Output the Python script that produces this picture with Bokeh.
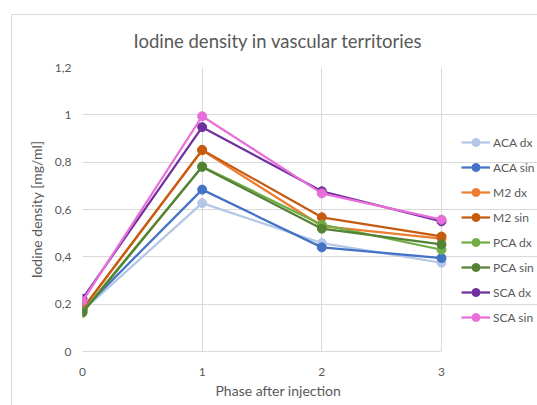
from bokeh.plotting import figure
from bokeh.models import (Range1d, FixedTicker, CustomJSTickFormatter, Legend,
                          LegendItem, InlineStyleSheet, Title)
from bokeh.embed import file_html
from bokeh.resources import INLINE

# Iodine density per vascular territory, measured at four phases after injection
phases = [0, 1, 2, 3]
series_names = ["ACA dx", "ACA sin", "M2 dx", "M2 sin",
                "PCA dx", "PCA sin", "SCA dx", "SCA sin"]
aca_dx = [0.172, 0.627, 0.458, 0.375]
aca_sin = [0.175, 0.684, 0.440, 0.395]
m2_dx = [0.178, 0.850, 0.530, 0.477]
m2_sin = [0.180, 0.852, 0.567, 0.486]
pca_dx = [0.168, 0.782, 0.536, 0.430]
pca_sin = [0.164, 0.780, 0.519, 0.453]
sca_dx = [0.223, 0.948, 0.677, 0.550]
sca_sin = [0.213, 0.994, 0.668, 0.557]
y_ticks = [0, 0.2, 0.4, 0.6, 0.8, 1.0, 1.2]

values = [aca_dx, aca_sin, m2_dx, m2_sin, pca_dx, pca_sin, sca_dx, sca_sin]
colors = ["#b4c7e7", "#4472c4", "#ed7d31", "#c55a11",
          "#70ad47", "#548235", "#7030a0", "#e86fd7"]

FONT = "Lato"
TEXT = "#595959"
GRID = "#d9d9d9"

# The frame runs to the right edge so the legend can sit inside it; the
# plotted area itself spans x = 0..3 (pixels 82..441), the rest holds the legend.
W, H = 537, 405
LEFT, PLOT_RIGHT, TOP, BOTTOM = 82, 441, 67, 351
x_end = 3 * (W - LEFT) / (PLOT_RIGHT - LEFT)

p = figure(width=W, height=H, output_backend="svg", toolbar_location=None,
           x_range=Range1d(0, x_end), y_range=Range1d(0, 1.2))
p.min_border_left = LEFT
p.min_border_right = 0
p.min_border_top = TOP
p.min_border_bottom = H - BOTTOM
p.outline_line_color = None
p.background_fill_color = "white"
p.border_fill_color = "white"

# thin frame around the chart area, open towards the right and bottom edges
p.stylesheets = [InlineStyleSheet(css="""
:host::after {
  content: "";
  position: absolute;
  left: 11px; top: 14px; right: 0; bottom: 0;
  border-left: 1px solid #d9d9d9;
  border-top: 1px solid #d9d9d9;
  pointer-events: none;
}
""")]

# chart title
p.title.text = "Iodine density in vascular territories"
p.title.text_font = FONT
p.title.text_font_size = "18.5px"
p.title.text_font_style = "normal"
p.title.text_color = TEXT
p.title.align = "left"
p.title.offset = 51
p.title.standoff = 31

# axes
p.xaxis.ticker = FixedTicker(ticks=phases)
p.yaxis.ticker = FixedTicker(ticks=y_ticks)
p.xaxis.bounds = (0, 3)
p.yaxis.formatter = CustomJSTickFormatter(
    code="return (Math.round(tick * 10) / 10).toString().replace('.', ',');")
for ax in (p.xaxis[0], p.yaxis[0]):
    ax.major_tick_line_color = None
    ax.minor_tick_line_color = None
    ax.major_tick_out = 0
    ax.major_label_text_font = FONT
    ax.major_label_text_font_size = "12px"
    ax.major_label_text_color = TEXT
    ax.axis_label_text_font = FONT
    ax.axis_label_text_font_size = "14px"
    ax.axis_label_text_font_style = "normal"
    ax.axis_label_text_color = TEXT
p.xaxis.axis_line_color = GRID
p.yaxis.axis_line_color = None
p.xaxis.major_label_standoff = 16
p.yaxis.major_label_standoff = 11
p.yaxis.axis_label = "Iodine density [mg/ml]"
p.yaxis.axis_label_standoff = 7

# x-axis title, centred under the plotted area rather than the whole frame
p.add_layout(Title(text="Phase after injection", text_font=FONT,
                   text_font_size="14px", text_font_style="normal",
                   text_color=TEXT, align="left", offset=133, standoff=2),
             "below")

p.xgrid.grid_line_color = GRID
p.ygrid.grid_line_color = GRID
p.xgrid.ticker = FixedTicker(ticks=phases)
p.ygrid.ticker = FixedTicker(ticks=y_ticks)
p.ygrid.bounds = (0, 3)

items = []
for name, vals, col in zip(series_names, values, colors):
    ln = p.line(phases, vals, line_color=col, line_width=2.25)
    mk = p.scatter(phases, vals, marker="circle", size=9,
                   fill_color=col, line_color=col)
    items.append(LegendItem(label=name, renderers=[ln, mk]))

legend = Legend(items=items, location=(461 - LEFT, 24))
legend.background_fill_alpha = 0
legend.border_line_color = None
legend.padding = 0
legend.margin = 0
legend.spacing = 5
legend.glyph_width = 29
legend.glyph_height = 20
legend.label_height = 20
legend.label_standoff = 3
legend.label_text_font = FONT
legend.label_text_font_size = "12px"
legend.label_text_color = TEXT
p.add_layout(legend)

open("out.html", "w").write(file_html(p, INLINE))
